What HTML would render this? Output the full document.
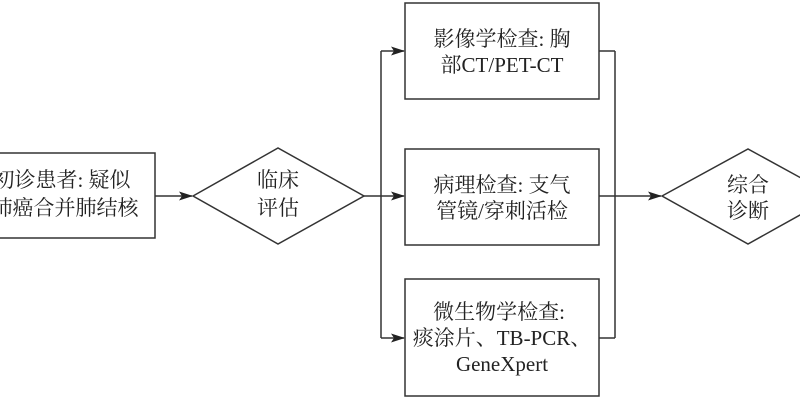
<!DOCTYPE html>
<html><head><meta charset="utf-8"><style>
body{margin:0;background:#fff;}
svg text{font-family:"Liberation Serif","Noto Serif CJK SC","Noto Sans CJK SC",serif;font-size:21px;fill:#222;text-anchor:middle;}
</style></head><body>
<svg width="800" height="400" viewBox="0 0 800 400" xmlns="http://www.w3.org/2000/svg">
<defs><marker id="a" markerWidth="14" markerHeight="9" refX="13" refY="4.5" orient="auto" markerUnits="userSpaceOnUse"><path d="M0,0 L14,4.5 L0,9 L3,4.5 Z" fill="#222"/></marker></defs>
<g stroke="#333" stroke-width="1.5" fill="none">
<rect x="-20" y="153" width="175" height="85"/>
<polygon points="193,196 278,148 364,196 278,244"/>
<rect x="405" y="3" width="194" height="96"/>
<rect x="405" y="149" width="194" height="96"/>
<rect x="405" y="279" width="194" height="117"/>
<polygon points="662,196 748,149 834,196 748,244"/>
<line x1="155" y1="196" x2="192" y2="196" marker-end="url(#a)"/>
<line x1="364" y1="196" x2="381" y2="196"/>
<line x1="381" y1="51" x2="381" y2="338"/>
<line x1="381" y1="51" x2="404" y2="51" marker-end="url(#a)"/>
<line x1="381" y1="196" x2="404" y2="196" marker-end="url(#a)"/>
<line x1="381" y1="338" x2="404" y2="338" marker-end="url(#a)"/>
<line x1="599" y1="51" x2="615" y2="51"/>
<line x1="599" y1="338" x2="615" y2="338"/>
<line x1="615" y1="51" x2="615" y2="338"/>
<line x1="599" y1="196" x2="661" y2="196" marker-end="url(#a)"/>
</g>
<text x="62" y="187">初诊患者: 疑似</text>
<text x="65" y="215">肺癌合并肺结核</text>
<text x="278" y="187">临床</text>
<text x="278" y="215">评估</text>
<text x="502" y="46">影像学检查: 胸</text>
<text x="502" y="72">部CT/PET-CT</text>
<text x="502" y="192">病理检查: 支气</text>
<text x="502" y="218">管镜/穿刺活检</text>
<text x="499" y="319">微生物学检查:</text>
<text x="502" y="345">痰涂片、TB-PCR、</text>
<text x="502" y="371">GeneXpert</text>
<text x="748" y="192">综合</text>
<text x="748" y="218">诊断</text>
</svg>
</body></html>
